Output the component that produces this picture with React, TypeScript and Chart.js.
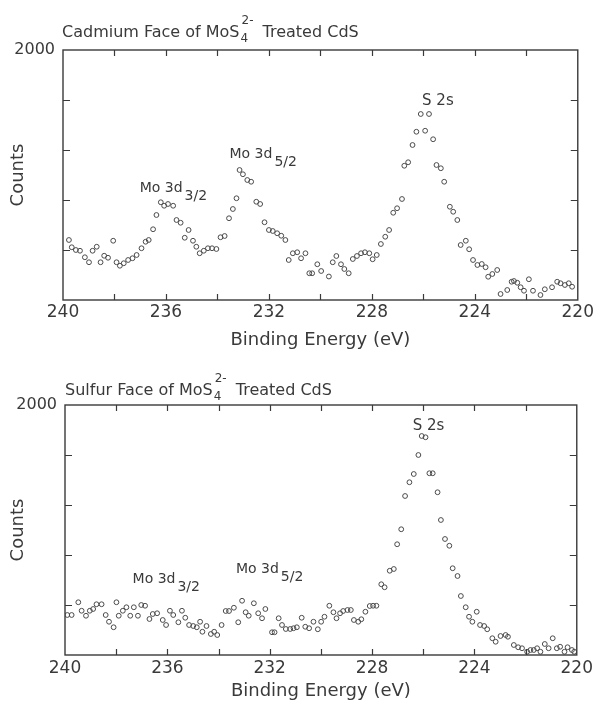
import React, { useEffect, useRef } from 'react';
import { Chart, registerables } from 'chart.js';

Chart.register(...registerables);

const FONT = '"DejaVu Sans", "Liberation Sans", sans-serif';
const INK = '#3a3a3a';

// ---- axes ----
const energyMin = 220;
const energyMax = 240;
const energyStep = 2;
const countsMin = 0;
const countsMax = 2000;
const countsStep = 400;
const xTickLabels = [240, 236, 232, 228, 224, 220];
const yTickLabels = [2000];
const xAxisTitle = 'Binding Energy (eV)';
const yAxisTitle = 'Counts';

// ---- Cadmium face data ----
const cdEnergy = [
  239.77, 239.66, 239.5, 239.34, 239.15, 238.99, 238.85, 238.69, 238.54, 238.4,
  238.25, 238.05, 237.92, 237.79, 237.64, 237.47, 237.3, 237.14, 236.95, 236.79,
  236.67, 236.5, 236.37, 236.2, 236.07, 235.92, 235.72, 235.59, 235.43, 235.27,
  235.12, 234.95, 234.82, 234.69, 234.53, 234.37, 234.21, 234.04, 233.88, 233.72,
  233.55, 233.4, 233.26, 233.14, 233.01, 232.84, 232.69, 232.49, 232.34, 232.17,
  232.0, 231.85, 231.68, 231.52, 231.36, 231.23, 231.07, 230.9, 230.75, 230.58,
  230.43, 230.32, 230.12, 229.97, 229.67, 229.52, 229.38, 229.2, 229.07, 228.9,
  228.74, 228.58, 228.42, 228.27, 228.1, 227.97, 227.81, 227.65, 227.48, 227.33,
  227.17, 227.02, 226.83, 226.74, 226.59, 226.42, 226.27, 226.1, 225.93, 225.78,
  225.62, 225.49, 225.32, 225.19, 224.97, 224.84, 224.68, 224.55, 224.35, 224.22,
  224.07, 223.9, 223.73, 223.58, 223.48, 223.32, 223.13, 223.0, 222.74, 222.57,
  222.48, 222.35, 222.22, 222.09, 221.9, 221.74, 221.45, 221.28, 221.0, 220.8,
  220.67, 220.5, 220.35, 220.22,
];
const cdCounts = [
  480, 422, 400, 394, 342, 302, 394, 426, 302, 354,
  338, 474, 302, 274, 294, 320, 334, 360, 414, 466,
  480, 566, 680, 782, 754, 768, 754, 640, 618, 498,
  560, 474, 426, 374, 394, 414, 414, 408, 502, 512,
  654, 728, 814, 1040, 1006, 960, 946, 786, 768, 622,
  560, 552, 534, 514, 480, 320, 374, 382, 334, 374,
  214, 214, 286, 232, 188, 302, 352, 286, 248, 214,
  328, 352, 374, 382, 374, 326, 360, 448, 506, 560,
  698, 734, 808, 1074, 1102, 1240, 1346, 1488, 1354, 1488,
  1286, 1080, 1054, 946, 746, 706, 640, 440, 474, 406,
  320, 280, 288, 262, 186, 208, 240, 48, 80, 146,
  152, 138, 102, 74, 166, 74, 40, 86, 102, 146,
  134, 120, 134, 106,
];

// ---- Sulfur face data ----
const sEnergy = [
  239.91, 239.74, 239.48, 239.35, 239.18, 239.03, 238.9, 238.77, 238.57, 238.41,
  238.28, 238.1, 237.99, 237.9, 237.74, 237.6, 237.45, 237.31, 237.15, 237.02,
  236.87, 236.7, 236.57, 236.4, 236.18, 236.05, 235.9, 235.77, 235.57, 235.43,
  235.3, 235.15, 234.99, 234.85, 234.72, 234.63, 234.47, 234.3, 234.17, 234.05,
  233.88, 233.72, 233.59, 233.4, 233.23, 233.08, 232.94, 232.82, 232.62, 232.45,
  232.3, 232.17, 231.91, 231.81, 231.65, 231.52, 231.37, 231.2, 231.07, 230.94,
  230.75, 230.61, 230.46, 230.29, 230.12, 229.99, 229.86, 229.67, 229.51, 229.39,
  229.25, 229.13, 228.96, 228.83, 228.71, 228.54, 228.42, 228.26, 228.09, 227.96,
  227.83, 227.64, 227.51, 227.31, 227.15, 227.02, 226.86, 226.71, 226.54, 226.37,
  226.19, 226.06, 225.91, 225.76, 225.63, 225.44, 225.31, 225.15, 224.98, 224.85,
  224.66, 224.53, 224.34, 224.21, 224.08, 223.91, 223.78, 223.62, 223.5, 223.3,
  223.17, 222.98, 222.78, 222.69, 222.46, 222.29, 222.14, 221.94, 221.81, 221.68,
  221.55, 221.42, 221.25, 221.1, 220.94, 220.78, 220.65, 220.48, 220.36, 220.19,
  220.1,
];
const sCounts = [
  320, 320, 422, 354, 314, 354, 368, 406, 406, 320,
  266, 222, 422, 314, 354, 382, 314, 382, 314, 400,
  394, 288, 328, 334, 280, 240, 354, 320, 262, 354,
  298, 240, 232, 222, 266, 186, 232, 168, 186, 160,
  240, 352, 352, 378, 262, 434, 342, 314, 414, 334,
  294, 368, 182, 182, 294, 240, 208, 208, 214, 222,
  298, 226, 214, 266, 206, 266, 306, 394, 342, 294,
  334, 352, 360, 360, 280, 266, 286, 346, 392, 394,
  394, 566, 542, 674, 688, 886, 1006, 1272, 1382, 1448,
  1600, 1752, 1742, 1454, 1454, 1302, 1080, 928, 874, 694,
  632, 472, 382, 306, 266, 346, 240, 232, 206, 134,
  106, 152, 160, 146, 80, 62, 54, 26, 40, 40,
  54, 26, 88, 54, 134, 54, 66, 26, 62, 40,
  26,
];

// ---- titles ----
const cdTitleParts = ['Cadmium Face of MoS', '4', '2-', ' Treated CdS'];
const sTitleParts = ['Sulfur Face of MoS', '4', '2-', ' Treated CdS'];

// ---- peak annotations (text, subscript, energy, counts) ----
const cdLabelText = ['Mo 3d', 'Mo 3d', 'S 2s'];
const cdLabelSub = ['3/2', '5/2', ''];
const cdLabelEnergy = [237.02, 233.53, 226.05];
const cdLabelCounts = [864, 1136, 1560];

const sLabelText = ['Mo 3d', 'Mo 3d', 'S 2s'];
const sLabelSub = ['3/2', '5/2', ''];
const sLabelEnergy = [237.36, 233.32, 226.41];
const sLabelCounts = [576, 656, 1800];

type PanelProps = {
  energy: number[];
  counts: number[];
  titleParts: string[];
  labelText: string[];
  labelSub: string[];
  labelEnergy: number[];
  labelCounts: number[];
  top: number;
  height: number;
  padTop: number;
  padRight: number;
  yAxisWidth: number;
  xAxisHeight: number;
  titleX: number;
  titleBaseline: number;
  xTickPad: number;
};

function Panel(p: PanelProps) {
  const ref = useRef<HTMLCanvasElement | null>(null);

  useEffect(() => {
    const canvas = ref.current;
    if (!canvas) return;

    const data = p.energy.map((e, i) => ({ x: e, y: p.counts[i] }));

    const framePlugin = {
      id: 'frameTicks',
      afterDatasetsDraw(chart: any) {
        const { ctx, chartArea: a } = chart;
        const xs = chart.scales.x;
        const ys = chart.scales.y;
        ctx.save();
        ctx.strokeStyle = INK;
        ctx.lineWidth = 1.4;
        ctx.strokeRect(a.left, a.top, a.right - a.left, a.bottom - a.top);
        ctx.lineWidth = 1.2;
        ctx.beginPath();
        xs.ticks.forEach((t: any) => {
          if (t.value <= energyMin || t.value >= energyMax) return;
          const px = Math.round(xs.getPixelForValue(t.value)) + 0.5;
          ctx.moveTo(px, a.top);
          ctx.lineTo(px, a.top + 6);
          ctx.moveTo(px, a.bottom);
          ctx.lineTo(px, a.bottom - 6);
        });
        ys.ticks.forEach((t: any) => {
          if (t.value <= countsMin || t.value >= countsMax) return;
          const py = Math.round(ys.getPixelForValue(t.value)) + 0.5;
          ctx.moveTo(a.left, py);
          ctx.lineTo(a.left + 7, py);
          ctx.moveTo(a.right, py);
          ctx.lineTo(a.right - 7, py);
        });
        ctx.stroke();

        // title with MoS4(2-)
        ctx.fillStyle = INK;
        ctx.textBaseline = 'alphabetic';
        ctx.textAlign = 'left';
        const [main, sub, sup, rest] = p.titleParts;
        ctx.font = `16px ${FONT}`;
        let x = p.titleX;
        ctx.fillText(main, x, p.titleBaseline);
        x += ctx.measureText(main).width + 1;
        ctx.font = `12px ${FONT}`;
        ctx.fillText(sub, x, p.titleBaseline + 5);
        ctx.fillText(sup, x + 1, p.titleBaseline - 13);
        x += Math.max(ctx.measureText(sub).width, ctx.measureText(sup).width + 1) + 4;
        ctx.font = `16px ${FONT}`;
        ctx.fillText(rest, x, p.titleBaseline);

        // peak labels
        p.labelText.forEach((txt, i) => {
          const lx = xs.getPixelForValue(p.labelEnergy[i]);
          const ly = ys.getPixelForValue(p.labelCounts[i]);
          const big = p.labelSub[i] ? 14 : 15;
          ctx.font = `${big}px ${FONT}`;
          ctx.fillText(txt, lx, ly);
          if (p.labelSub[i]) {
            const w = ctx.measureText(txt).width;
            ctx.font = `14px ${FONT}`;
            ctx.fillText(p.labelSub[i], lx + w + 2, ly + 8);
          }
        });
        ctx.restore();
      },
    };

    const chart = new Chart(canvas, {
      type: 'scatter',
      data: {
        datasets: [
          {
            data,
            showLine: false,
            pointStyle: 'circle',
            pointRadius: 2.4,
            pointBorderWidth: 1,
            pointBorderColor: '#4a4a4a',
            pointBackgroundColor: 'rgba(0,0,0,0)',
          },
        ],
      },
      options: {
        animation: false,
        responsive: false,
        maintainAspectRatio: false,
        events: [],
        layout: { padding: { top: p.padTop, right: p.padRight, left: 0, bottom: 0 } },
        plugins: {
          legend: { display: false },
          tooltip: { enabled: false },
          title: { display: false },
        },
        scales: {
          x: {
            type: 'linear',
            reverse: true,
            min: energyMin,
            max: energyMax,
            grid: { display: false, drawTicks: false },
            border: { display: false },
            ticks: {
              stepSize: energyStep,
              autoSkip: false,
              maxRotation: 0,
              padding: p.xTickPad,
              color: INK,
              font: { family: FONT, size: 17, lineHeight: 1 },
              callback: (v: any) => (xTickLabels.includes(Number(v)) ? String(v) : ''),
            },
            title: {
              display: true,
              text: xAxisTitle,
              color: INK,
              font: { family: FONT, size: 18, lineHeight: 1 },
              padding: { top: 0, bottom: 1 },
            },
            afterFit: (s: any) => {
              s.height = p.xAxisHeight;
            },
          },
          y: {
            type: 'linear',
            min: countsMin,
            max: countsMax,
            grid: { display: false, drawTicks: false },
            border: { display: false },
            ticks: {
              stepSize: countsStep,
              autoSkip: false,
              padding: 8,
              color: INK,
              font: { family: FONT, size: 16, lineHeight: 1 },
              callback: (v: any) => (yTickLabels.includes(Number(v)) ? String(v) : ''),
            },
            title: {
              display: true,
              text: yAxisTitle,
              color: INK,
              font: { family: FONT, size: 18, lineHeight: 1 },
              padding: { top: 9, bottom: 0 },
            },
            afterFit: (s: any) => {
              s.width = p.yAxisWidth;
            },
          },
        },
      } as any,
      plugins: [framePlugin],
    });

    return () => chart.destroy();
  }, []);

  return (
    <canvas
      ref={ref}
      width={598}
      height={p.height}
      style={{ position: 'absolute', left: 0, top: p.top, width: 598, height: p.height, display: 'block' }}
    />
  );
}

export default function App() {
  return (
    <div style={{ position: 'absolute', left: 0, top: 0, width: 598, height: 701, background: '#fff', overflow: 'hidden' }}>
      <Panel
        energy={cdEnergy}
        counts={cdCounts}
        titleParts={cdTitleParts}
        labelText={cdLabelText}
        labelSub={cdLabelSub}
        labelEnergy={cdLabelEnergy}
        labelCounts={cdLabelCounts}
        top={0}
        height={350}
        padTop={50}
        padRight={19}
        yAxisWidth={63}
        xAxisHeight={50}
        titleX={62}
        titleBaseline={37}
        xTickPad={4}
      />
      <Panel
        energy={sEnergy}
        counts={sCounts}
        titleParts={sTitleParts}
        labelText={sLabelText}
        labelSub={sLabelSub}
        labelEnergy={sLabelEnergy}
        labelCounts={sLabelCounts}
        top={350}
        height={351}
        padTop={55}
        padRight={18}
        yAxisWidth={65}
        xAxisHeight={46}
        titleX={65}
        titleBaseline={45}
        xTickPad={5}
      />
    </div>
  );
}
